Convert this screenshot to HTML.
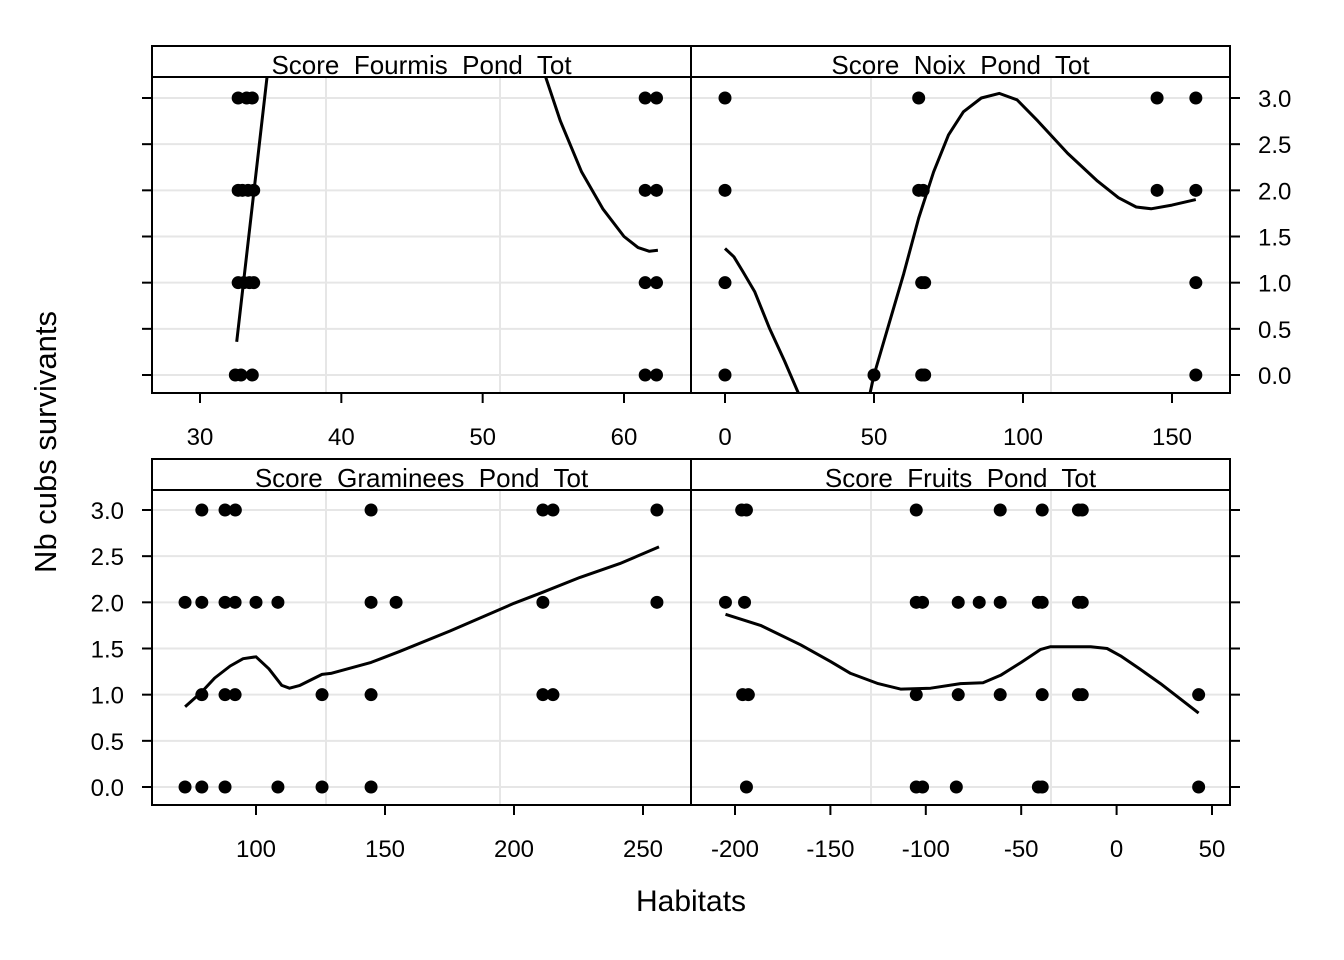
<!DOCTYPE html>
<html><head><meta charset="utf-8"><style>
html,body{margin:0;padding:0;background:#fff}
svg{display:block;font-family:"Liberation Sans",Arial,sans-serif}
text{white-space:pre}
</style></head><body>
<svg id="chart" width="1344" height="960" xmlns="http://www.w3.org/2000/svg">
<text x="56" y="442" font-size="31" text-anchor="middle" transform="rotate(-90 56 442)">Nb cubs survivants</text>
<text x="691" y="911" font-size="30" text-anchor="middle">Habitats</text>
</svg>
<script>
// Panel 1: Score_Fourmis_Pond_Tot
const fourmisX = [32.7,33.3,33.7,61.5,62.3, 32.7,33.0,33.4,33.8,61.5,62.3, 32.7,33.1,33.5,33.8,61.5,62.3, 32.5,32.9,33.7,61.5,62.3];
const fourmisY = [3,3,3,3,3, 2,2,2,2,2,2, 1,1,1,1,1,1, 0,0,0,0,0];
const fourmisCurveX = [32.6,34.8,null,54.3,55.5,57,58.5,60,61,61.8,62.4];
const fourmisCurveY = [0.36,3.3,null,3.3,2.75,2.2,1.8,1.5,1.38,1.34,1.35];
// Panel 2: Score_Noix_Pond_Tot
const noixX = [0,65,145,158, 0,65,66.5,145,158, 0,66,67,158, 0,50,66,67,158];
const noixY = [3,3,3,3, 2,2,2,2,2, 1,1,1,1, 0,0,0,0,0];
const noixCurveX = [0,3,6,10,15,20,26,null,48,50,55,60,65,70,75,80,86,92,98,105,115,125,132,138,143,150,158];
const noixCurveY = [1.37,1.28,1.12,0.9,0.5,0.15,-0.3,null,-0.3,0,0.55,1.1,1.7,2.2,2.6,2.85,3.0,3.05,2.98,2.75,2.4,2.1,1.92,1.82,1.8,1.84,1.9];
// Panel 3: Score_Graminees_Pond_Tot
const gramX = [79,88,92,144.6,211.2,215.1,255.4, 72.5,79,88,91.9,100,108.5,144.6,154.3,211.2,255.4, 79,88,91.9,125.6,144.6,211.2,215.1, 72.5,79,88,108.5,125.6,144.6];
const gramY = [3,3,3,3,3,3,3, 2,2,2,2,2,2,2,2,2,2, 1,1,1,1,1,1,1, 0,0,0,0,0,0];
const gramCurveX = [72.5,79,84,90,95,100,105,110,113,117,125.6,129,144.6,155.8,175.2,200,211.2,225.6,241,256.2];
const gramCurveY = [0.87,1.03,1.18,1.31,1.39,1.41,1.28,1.1,1.07,1.1,1.22,1.23,1.35,1.47,1.69,1.99,2.11,2.27,2.42,2.6];
// Panel 4: Score_Fruits_Pond_Tot
const fruitX = [-196.5,-194,-105,-61,-39,-20,-18, -205,-195,-105,-101.7,-83,-72,-61,-41,-39,-20,-18, -196,-193,-105,-83,-61,-39,-20,-18,43, -194,-105,-101.7,-84,-41,-39,43];
const fruitY = [3,3,3,3,3,3,3, 2,2,2,2,2,2,2,2,2,2,2, 1,1,1,1,1,1,1,1,1, 0,0,0,0,0,0,0];
const fruitCurveX = [-205,-186.6,-165.6,-150,-139.4,-125,-113.2,-97.5,-81.8,-70,-60.8,-50,-39.8,-34.6,-13.6,-5,2.1,12,23,43];
const fruitCurveY = [1.87,1.75,1.54,1.36,1.23,1.12,1.06,1.07,1.12,1.13,1.21,1.35,1.49,1.52,1.52,1.5,1.42,1.28,1.12,0.8];

const yTicks = [0,0.5,1,1.5,2,2.5,3];
const yTickLabels = ["0.0","0.5","1.0","1.5","2.0","2.5","3.0"];
const xTicks1 = [30,40,50,60], xTicks2 = [0,50,100,150], xTicks3 = [100,150,200,250], xTicks4 = [-200,-150,-100,-50,0,50];

const NS="http://www.w3.org/2000/svg";
const svg=document.getElementById('chart');
function mk(tag,attrs,parent){const e=document.createElementNS(NS,tag);for(const k in attrs)e.setAttribute(k,attrs[k]);(parent||svg).appendChild(e);return e;}

const panels=[
 {name:'fourmis',title:'Score_Fourmis_Pond_Tot',x0:152,x1:691,top:46,ptop:77,pbot:393,xs:[30,200,60,624],yv:[98,375],xd:fourmisX,yd:fourmisY,cx:fourmisCurveX,cy:fourmisCurveY,ticks:xTicks1,yLeft:false,yRight:true,tickL:true,tickR:false,grid:[326,500]},
 {name:'noix',title:'Score_Noix_Pond_Tot',x0:691,x1:1230,top:46,ptop:77,pbot:393,xs:[0,725,150,1172],yv:[98,375],xd:noixX,yd:noixY,cx:noixCurveX,cy:noixCurveY,ticks:xTicks2,yLeft:false,yRight:true,tickL:false,tickR:true,grid:[871,1051]},
 {name:'graminees',title:'Score_Graminees_Pond_Tot',x0:152,x1:691,top:459,ptop:490,pbot:805,xs:[100,256,250,643],yv:[510,787],xd:gramX,yd:gramY,cx:gramCurveX,cy:gramCurveY,ticks:xTicks3,yLeft:true,yRight:false,tickL:true,tickR:false,grid:[326,500]},
 {name:'fruits',title:'Score_Fruits_Pond_Tot',x0:691,x1:1230,top:459,ptop:490,pbot:805,xs:[-200,735,50,1212],yv:[510,787],xd:fruitX,yd:fruitY,cx:fruitCurveX,cy:fruitCurveY,ticks:xTicks4,yLeft:false,yRight:false,tickL:false,tickR:true,grid:[871,1051]}
];

panels.forEach((p,pi)=>{
 const g=mk('g',{});
 
 
 const sx=v=>p.xs[1]+(v-p.xs[0])*(p.xs[3]-p.xs[1])/(p.xs[2]-p.xs[0]);
 const sy=v=>p.yv[1]+(v-0)*(p.yv[0]-p.yv[1])/3;
 const clipId='clip'+pi;
 const cp=mk('clipPath',{id:clipId},g);
 mk('rect',{x:p.x0,y:p.ptop,width:p.x1-p.x0,height:p.pbot-p.ptop},cp);
 yTicks.forEach(t=>{const l=mk('line',{x1:p.x0,x2:p.x1,y1:sy(t),y2:sy(t),stroke:'#e6e6e6','stroke-width':2},g);
  
  });
 p.grid.forEach(x=>{const l=mk('line',{x1:x,x2:x,y1:p.ptop,y2:p.pbot,stroke:'#e6e6e6','stroke-width':2},g);
  
  });
 p.xd.forEach((v,i)=>{const c=mk('circle',{cx:sx(v),cy:sy(p.yd[i]),r:6.5,fill:'#000'},g);
  
  });
 let d='',pen=false;
 p.cx.forEach((v,i)=>{if(v===null){pen=false;return;}d+=(pen?'L':'M')+sx(v).toFixed(1)+','+sy(p.cy[i]).toFixed(1)+' ';pen=true;});
 const path=mk('path',{d:d,fill:'none',stroke:'#000','stroke-width':3,'stroke-linejoin':'round','clip-path':'url(#'+clipId+')'},g);
 
 
 mk('rect',{x:p.x0,y:p.top,width:p.x1-p.x0,height:p.pbot-p.top,fill:'none',stroke:'#000','stroke-width':2},g);
 mk('line',{x1:p.x0,x2:p.x1,y1:p.ptop,y2:p.ptop,stroke:'#000','stroke-width':2},g);
 const st=mk('text',{x:(p.x0+p.x1)/2,y:p.ptop-3,'font-size':26,'text-anchor':'middle'},g);
 st.textContent=p.title.replace(/_/g,'  ');
 
 
 p.ticks.forEach(t=>{const x=sx(t);mk('line',{x1:x,x2:x,y1:p.pbot,y2:p.pbot+10,stroke:'#000','stroke-width':2},g);
  const tx=mk('text',{x:x,y:p.pbot+52,'font-size':24,'text-anchor':'middle'},g);tx.textContent=t;
  
  });
 yTicks.forEach((t,i)=>{const y=sy(t);
  if(p.tickL) mk('line',{x1:p.x0-10,x2:p.x0,y1:y,y2:y,stroke:'#000','stroke-width':2},g);
  if(p.tickR) mk('line',{x1:p.x1,x2:p.x1+10,y1:y,y2:y,stroke:'#000','stroke-width':2},g);
  if(p.yLeft){const tx=mk('text',{x:p.x0-28,y:y+9,'font-size':24,'text-anchor':'end'},g);tx.textContent=yTickLabels[i];
   
   }
  if(p.yRight&&p.tickR){const tx=mk('text',{x:p.x1+28,y:y+9,'font-size':24,'text-anchor':'start'},g);tx.textContent=yTickLabels[i];
   
   }
 });
});
</script>
</body></html>
